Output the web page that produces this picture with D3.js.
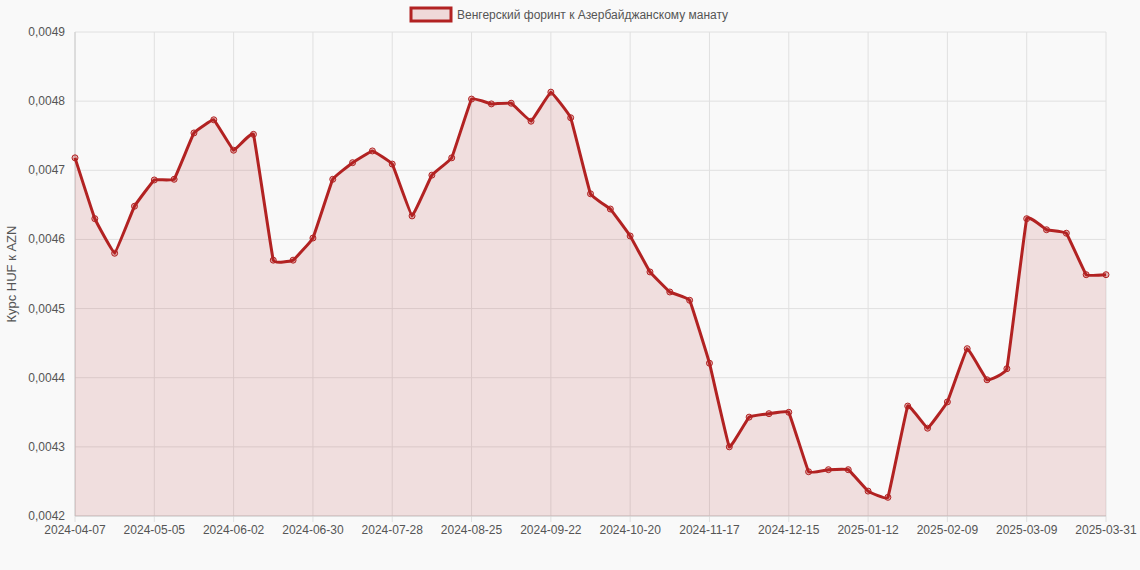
<!DOCTYPE html>
<html><head><meta charset="utf-8">
<script src="https://cdn.jsdelivr.net/npm/d3@7"></script>
<style>body{margin:0;background:#f9f9f9;font-family:"Liberation Sans",Arial,sans-serif}</style>
</head><body><svg id="c" width="1140" height="570"></svg>
<script>
const startDate = "2024-04-07";
const lastLabel = "2025-03-31";
const values = [0.004718,0.004630,0.004580,0.004648,0.004686,0.004687,0.004754,0.004773,0.004729,0.004752,
0.004570,0.004570,0.004602,0.004687,0.004711,0.004728,0.004709,0.004634,0.004693,0.004718,
0.004803,0.004796,0.004797,0.004771,0.004813,0.004776,0.004666,0.004644,0.004605,0.004553,
0.004524,0.004512,0.004421,0.004300,0.004343,0.004348,0.004350,0.004264,0.004267,0.004267,
0.004236,0.004227,0.004359,0.004327,0.004365,0.004442,0.004397,0.004413,0.004630,0.004614,
0.004609,0.004549,0.004549];
const yTicks = [0.0042,0.0043,0.0044,0.0045,0.0046,0.0047,0.0048,0.0049];
const fmtD = d3.utcFormat("%Y-%m-%d");
const s0 = new Date(startDate+"T00:00:00Z");
const labels = values.map((v,i)=> i===values.length-1 ? lastLabel : fmtD(d3.utcDay.offset(s0,7*i)));

const svg = d3.select("#c");
const L=75,R=1106,T=32,B=516;
const x = d3.scalePoint().domain(labels).range([L,R]);
const y = d3.scaleLinear().domain([0.0042,0.0049]).range([B,T]);
const fmtY = v=>d3.format(".4f")(v).replace(".",",");

const tickIdx = labels.map((l,i)=>i).filter(i=>i%4===0 || i===labels.length-1);
svg.append("g").selectAll("line").data(yTicks).join("line")
 .attr("x1",L).attr("x2",R).attr("y1",d=>y(d)).attr("y2",d=>y(d)).attr("stroke","#e0e0e0");
svg.append("g").selectAll("line").data(tickIdx).join("line")
 .attr("x1",i=>x(labels[i])).attr("x2",i=>x(labels[i])).attr("y1",T).attr("y2",B+6).attr("stroke","#e0e0e0");
svg.append("line").attr("x1",L).attr("x2",L).attr("y1",T).attr("y2",B).attr("stroke","#ccc");
svg.append("line").attr("x1",L).attr("x2",R).attr("y1",B).attr("y2",B).attr("stroke","#ccc");

svg.append("g").selectAll("text").data(yTicks).join("text")
 .attr("x",L-10).attr("y",d=>y(d)+4).attr("text-anchor","end").attr("font-size",12).attr("fill","#555").text(fmtY);
svg.append("g").selectAll("text").data(tickIdx).join("text")
 .attr("x",i=>x(labels[i])).attr("y",B+18).attr("text-anchor","middle").attr("font-size",12).attr("fill","#555").text(i=>labels[i]);
svg.append("text").attr("transform",`translate(16,${(T+B)/2}) rotate(-90)`).attr("text-anchor","middle")
 .attr("font-size",13).attr("fill","#555").text("Курс HUF к AZN");

const cv = d3.curveCardinal.tension(0.8);
const area = d3.area().x((d,i)=>x(labels[i])).y0(B).y1(d=>y(d)).curve(cv);
const line = d3.line().x((d,i)=>x(labels[i])).y(d=>y(d)).curve(cv);
svg.append("path").attr("d",area(values)).attr("fill","rgba(178,34,34,0.12)");
svg.append("path").attr("d",line(values)).attr("fill","none").attr("stroke","#b22222").attr("stroke-width",3);
svg.append("g").selectAll("circle").data(values).join("circle")
 .attr("cx",(d,i)=>x(labels[i])).attr("cy",d=>y(d)).attr("r",3)
 .attr("fill","rgba(178,34,34,0.3)").attr("stroke","#b22222").attr("stroke-width",1);

svg.append("rect").attr("x",411).attr("y",8).attr("width",40).attr("height",13)
 .attr("fill","rgba(178,34,34,0.15)").attr("stroke","#b22222").attr("stroke-width",3);
svg.append("text").attr("x",457).attr("y",19).attr("font-size",12).attr("fill","#555")
 .text("Венгерский форинт к Азербайджанскому манату");
</script></body></html>
